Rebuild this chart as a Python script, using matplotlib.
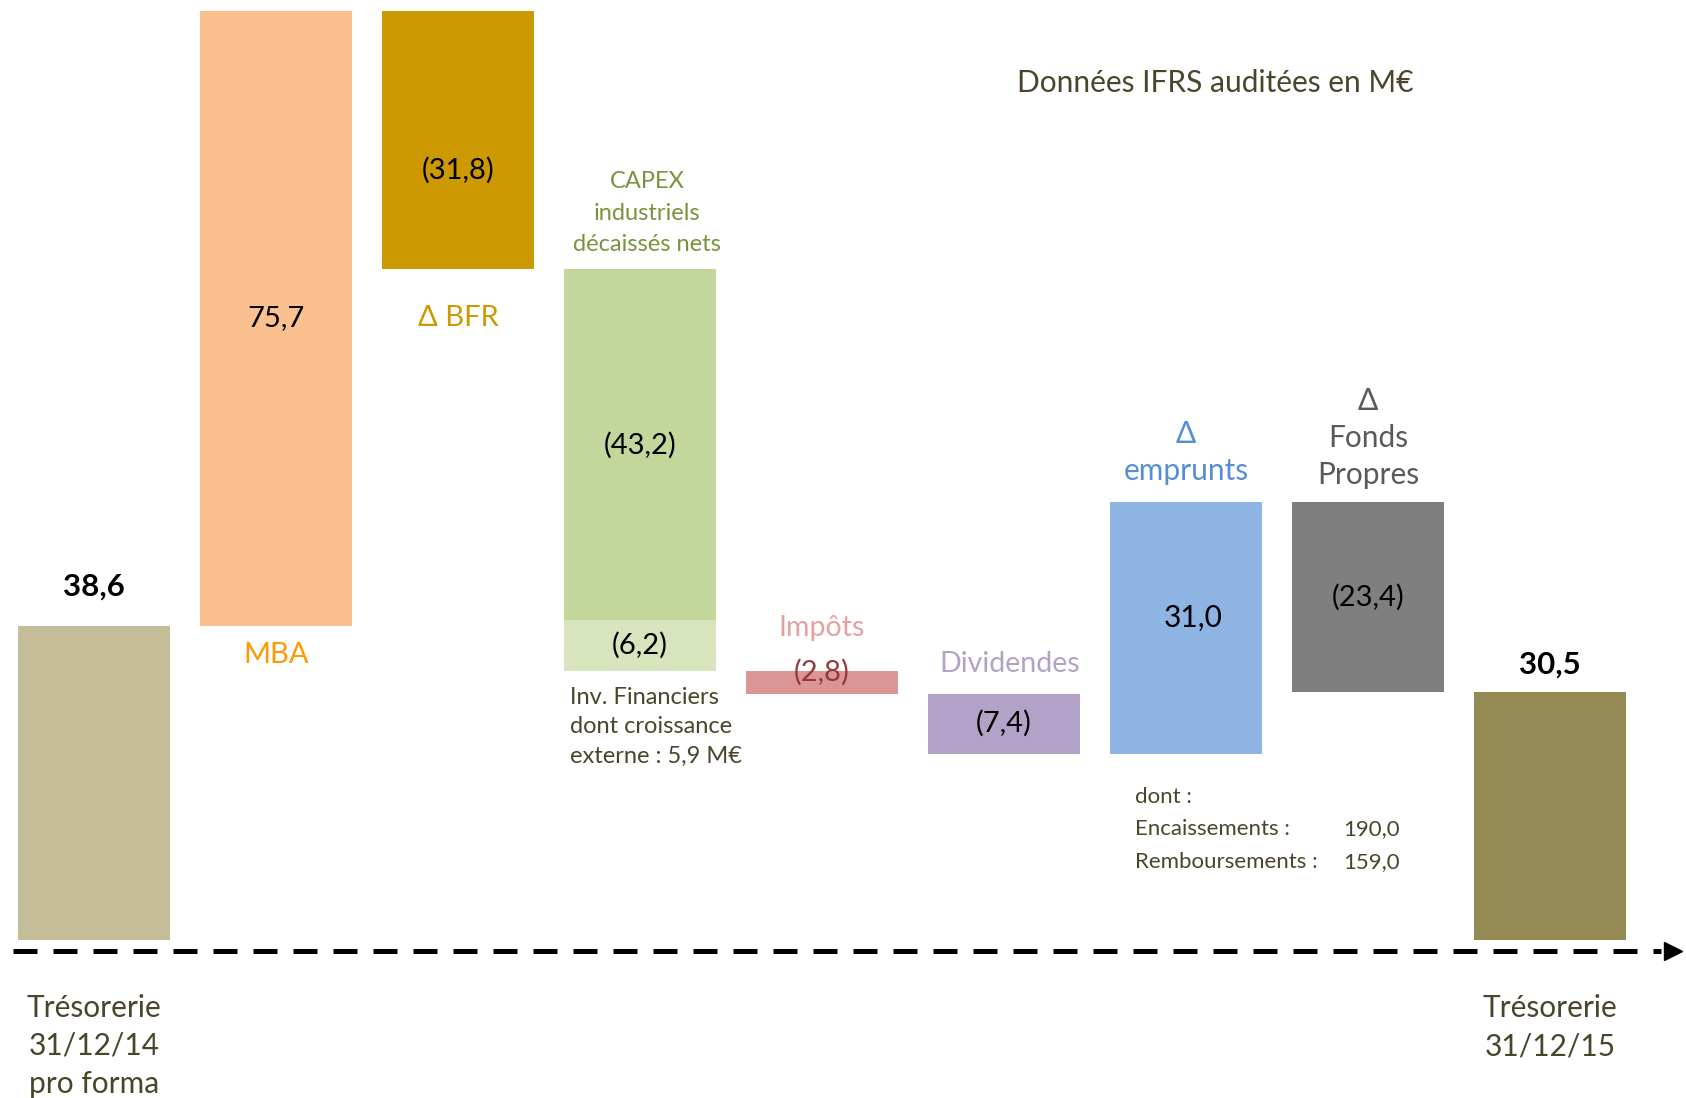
import matplotlib.pyplot as plt
import numpy as np

plt.rcParams["font.family"] = ["Lato", "DejaVu Sans"]

# Tableau de flux de trésorerie 2015 (M€) : ouverture, mouvements, clôture
STEPS = ["Trésorerie 31/12/14", "MBA", "Δ BFR", "CAPEX", "Inv. Financiers",
         "Impôts", "Dividendes", "Δ emprunts", "Δ Fonds Propres",
         "Trésorerie 31/12/15"]
AMOUNTS = [38.6, 75.7, -31.8, -43.2, -6.2, -2.8, -7.4, 31.0, -23.4, 30.5]
VALUE_LABELS = ["38,6", "75,7", "(31,8)", "(43,2)", "(6,2)", "(2,8)",
                "(7,4)", "31,0", "(23,4)", "30,5"]
TOTALS = ["Trésorerie 31/12/14", "Trésorerie 31/12/15"]
# Inv. Financiers est empilé sous les CAPEX, dans la même colonne
SAME_COLUMN_AS_PREVIOUS = ["Inv. Financiers"]

BAR_COLOURS = ["#C4BD97", "#FAC090", "#CC9900", "#C3D69B", "#D7E4BD",
               "#D99694", "#B3A2C7", "#8EB4E3", "#7F7F7F", "#948A54"]

DONT_LINES = ["dont :", "Encaissements :", "Remboursements :"]
DONT_VALUES = ["", "190,0", "159,0"]

TEXT = "#4A452A"
W = 0.835
PT = 0.72  # points per pixel at 100 dpi


def note(ax, text, x, y, dx_px=0, dy_px=0, **kw):
    kw.setdefault("ha", "center")
    kw.setdefault("va", "center")
    ax.annotate(text, (x, y), xytext=(dx_px * PT, dy_px * PT),
                textcoords="offset points", **kw)


def main():
    fig = plt.figure(figsize=(16.86, 10.98), dpi=100)
    ax = fig.add_axes([0, 0, 1, 1])
    ax.set_xlim(-94 / 182, (1686 - 94) / 182)
    ax.set_ylim(-158 / 8.13, 940 / 8.13)
    ax.axis("off")

    # waterfall geometry
    xs, bottoms, heights = [], [], []
    col, level = -1, 0.0
    for name, amount in zip(STEPS, AMOUNTS):
        if name not in SAME_COLUMN_AS_PREVIOUS:
            col += 1
        if name in TOTALS:
            bottom, level = 0.0, amount
        else:
            bottom = min(level, level + amount)
            level += amount
        xs.append(col)
        bottoms.append(bottom)
        heights.append(abs(amount))
    xs, bottoms, heights = map(np.array, (xs, bottoms, heights))
    tops = bottoms + heights
    mids = bottoms + heights / 2

    ax.bar(xs, heights, bottom=bottoms, width=W, color=BAR_COLOURS, zorder=2)

    # baseline arrow
    base_y = -1.35
    ax.plot([0.008, 0.985], [base_y, base_y], color="black", lw=3.6,
            dashes=(4.8, 3.2), transform=ax.get_yaxis_transform(), zorder=1)
    ax.plot([0.992], [base_y], marker=">", ms=13, color="black",
            transform=ax.get_yaxis_transform(), zorder=1)

    idx = {name: i for i, name in enumerate(STEPS)}

    # values inside / above the bars
    for name in STEPS:
        i = idx[name]
        if name in TOTALS:
            dy = 40 if i == 0 else 27
            note(ax, VALUE_LABELS[i], xs[i], tops[i], dy_px=dy,
                 fontsize=22.5, fontweight="bold", color="black")
        elif name == "Impôts":
            note(ax, VALUE_LABELS[i], xs[i], mids[i], dy_px=10,
                 fontsize=21, color="#953735")
        elif name == "Δ BFR":
            note(ax, VALUE_LABELS[i], xs[i], mids[i], dy_px=-30,
                 fontsize=21, color="black")
        elif name == "Δ emprunts":
            note(ax, VALUE_LABELS[i], xs[i] + 0.04, mids[i], dy_px=10,
                 fontsize=21.5, color="black")
        else:
            note(ax, VALUE_LABELS[i], xs[i], mids[i], fontsize=21,
                 color="black")

    # category labels
    i = idx["MBA"]
    note(ax, "MBA", xs[i], bottoms[i], dy_px=-29, fontsize=21, color="#FF9900")
    i = idx["Δ BFR"]
    note(ax, "Δ BFR", xs[i], bottoms[i], dy_px=-49, fontsize=21, color="#CC9900")
    i = idx["CAPEX"]
    note(ax, "CAPEX\nindustriels\ndécaissés nets", xs[i] + 0.04, tops[i],
         dy_px=56, fontsize=17, color="#77933C", linespacing=1.62)
    i = idx["Inv. Financiers"]
    note(ax, "Inv. Financiers\ndont croissance\nexterne : 5,9 M€",
         xs[i] - W / 2, bottoms[i], dx_px=6, dy_px=-56, ha="left",
         fontsize=17, color=TEXT, linespacing=1.48)
    i = idx["Impôts"]
    note(ax, "Impôts", xs[i], tops[i], dy_px=43, fontsize=20.5, color="#E6A0A0")
    i = idx["Dividendes"]
    note(ax, "Dividendes", xs[i] + 0.03, tops[i], dy_px=30, fontsize=20.5,
         color="#B3A2C7")
    i = idx["Δ emprunts"]
    note(ax, "Δ\nemprunts", xs[i], tops[i], dy_px=49, fontsize=21.5,
         color="#558ED5", linespacing=1.4)
    i = idx["Δ Fonds Propres"]
    note(ax, "Δ\nFonds\nPropres", xs[i], tops[i], dy_px=64, fontsize=21.5,
         color="#595959", linespacing=1.4)

    i = idx["Δ emprunts"]
    for k, (line, val) in enumerate(zip(DONT_LINES, DONT_VALUES)):
        dy = -43 - 32.5 * k
        note(ax, line, xs[i] - W / 2, bottoms[i], dx_px=25, dy_px=dy,
             ha="left", fontsize=16, color=TEXT)
        if val:
            note(ax, val, xs[i] - W / 2, bottoms[i], dx_px=233, dy_px=dy,
                 ha="left", fontsize=16, color=TEXT)

    i = idx["Trésorerie 31/12/14"]
    note(ax, "Trésorerie\n31/12/14\npro forma", xs[i], base_y, dy_px=-95,
         fontsize=21.5, color=TEXT, linespacing=1.44)
    i = idx["Trésorerie 31/12/15"]
    note(ax, "Trésorerie\n31/12/15", xs[i], base_y, dy_px=-76,
         fontsize=21.5, color=TEXT, linespacing=1.44)

    fig.text(1215 / 1686, 1 - 83 / 1098, "Données IFRS auditées en M€",
             ha="center", va="center", fontsize=21.5, color=TEXT)

    fig.savefig("out.png", dpi=100)


if __name__ == "__main__":
    main()
